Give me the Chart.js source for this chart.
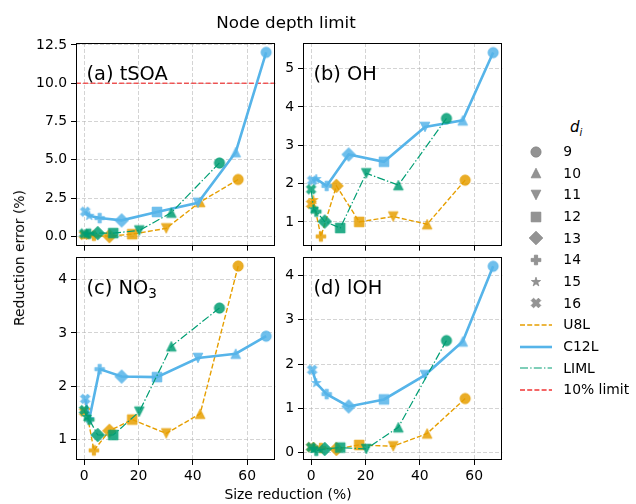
<!DOCTYPE html>
<html>
<head>
<meta charset="utf-8">
<script src="https://cdn.jsdelivr.net/npm/chart.js@4.4.1/dist/chart.umd.min.js"></script>
<style>
  body { margin: 0; background: #fff; }
  #fig { position: relative; width: 636px; height: 504px; overflow: hidden; font-family: "DejaVu Sans", sans-serif; color: #000; }
  #fig canvas.panel { position: absolute; }
  .txt { position: absolute; white-space: nowrap; line-height: 1; }
</style>
</head>
<body>
<div id="fig"></div>
<script>
// depth of the nodes (one marker per depth)
const depths = [9, 10, 11, 12, 13, 14, 15, 16];
const markers = ["o", "^", "v", "s", "D", "P", "*", "X"];

// size reduction (%) for each depth
const sizeU8L = [56.7, 42.7, 30.2, 17.7, 9.3, 3.6, 0.8, 0.0];
const sizeC12L = [67.0, 55.8, 41.9, 26.8, 13.8, 5.7, 1.9, 0.4];
const sizeLIML = [49.8, 32.1, 20.3, 10.7, 5.0, 1.9, 0.9, 0.0];

// reduction error (%) - (a) tSOA
const tsoaU8L = [3.72, 2.25, 0.53, 0.15, 0.02, 0.05, 0.08, 0.1];
const tsoaC12L = [12.02, 5.5, 2.2, 1.6, 1.05, 1.2, 1.35, 1.62];
const tsoaLIML = [4.8, 1.56, 0.39, 0.22, 0.22, 0.18, 0.15, 0.2];
// (b) OH
const ohU8L = [2.09, 0.94, 1.14, 1.0, 1.94, 0.62, 1.57, 1.47];
const ohC12L = [5.42, 3.65, 3.48, 2.57, 2.76, 1.94, 2.12, 2.08];
const ohLIML = [3.7, 1.96, 2.27, 0.84, 1.01, 1.27, 1.33, 1.85];
// (c) NO3
const no3U8L = [4.26, 1.48, 1.11, 1.37, 1.16, 0.79, 1.55, 1.52];
const no3C12L = [2.94, 2.61, 2.53, 2.17, 2.18, 2.32, 1.38, 1.76];
const no3LIML = [3.47, 2.75, 1.52, 1.08, 1.08, 1.37, 1.42, 1.55];
// (d) IOH
const iohU8L = [1.22, 0.43, 0.14, 0.17, 0.08, 0.1, 0.12, 0.12];
const iohC12L = [4.21, 2.51, 1.75, 1.2, 1.04, 1.32, 1.57, 1.87];
const iohLIML = [2.53, 0.57, 0.08, 0.11, 0.08, 0.04, 0.08, 0.12];

const limitValue = 10;

// ticks
const xTicks = [0, 20, 40, 60];
const yTicksA = [0, 2.5, 5, 7.5, 10, 12.5];
const yTicksB = [1, 2, 3, 4, 5];
const yTicksC = [1, 2, 3, 4];
const yTicksD = [0, 1, 2, 3, 4];

const xMin = -3.0, xMax = 70.4;

const colors = { U8L: "#E69F00", C12L: "#56B4E9", LIML: "#009E73" };
const limitColor = "rgba(240,50,50,0.8)";
const MS = 9.7;

Chart.defaults.font.family = "'DejaVu Sans', sans-serif";
Chart.defaults.font.size = 13.9;
Chart.defaults.color = "#000";

// marker images like matplotlib's filled markers
function markerCanvas(shape, color) {
  const n = 18;
  const c = document.createElement("canvas");
  c.width = n; c.height = n;
  const g = c.getContext("2d");
  g.translate(n / 2, n / 2);
  g.fillStyle = color;
  const h = MS / 2;
  g.beginPath();
  let pts = null;
  if (shape === "o") {
    g.arc(0, 0, h + 0.3, 0, Math.PI * 2);
  } else if (shape === "^") {
    pts = [[0, -h], [h, h], [-h, h]];
  } else if (shape === "v") {
    pts = [[0, h], [h, -h], [-h, -h]];
  } else if (shape === "s") {
    pts = [[-h, -h], [h, -h], [h, h], [-h, h]];
  } else if (shape === "D") {
    const r = h * Math.SQRT2;
    pts = [[0, -r], [r, 0], [0, r], [-r, 0]];
  } else if (shape === "P") {
    pts = [[-1, -3], [1, -3], [1, -1], [3, -1], [3, 1], [1, 1], [1, 3], [-1, 3], [-1, 1], [-3, 1], [-3, -1], [-1, -1]]
      .map(p => [p[0] * MS / 6, p[1] * MS / 6]);
  } else if (shape === "*") {
    pts = [];
    for (let i = 0; i < 10; i++) {
      const r = i % 2 === 0 ? h : h * 0.381966;
      const a = -Math.PI / 2 + i * Math.PI / 5;
      pts.push([r * Math.cos(a), r * Math.sin(a)]);
    }
  } else if (shape === "X") {
    pts = [[-1, -2], [0, -1], [1, -2], [2, -1], [1, 0], [2, 1], [1, 2], [0, 1], [-1, 2], [-2, 1], [-1, 0], [-2, -1]]
      .map(p => [p[0] * MS / 4, p[1] * MS / 4]);
  }
  if (pts) {
    g.moveTo(pts[0][0], pts[0][1]);
    for (let i = 1; i < pts.length; i++) g.lineTo(pts[i][0], pts[i][1]);
    g.closePath();
  }
  g.fill();
  g.lineWidth = 0.8;
  g.strokeStyle = color;
  g.stroke();
  return c;
}

function alpha(hex, a) {
  const v = parseInt(hex.slice(1), 16);
  return "rgba(" + (v >> 16) + "," + ((v >> 8) & 255) + "," + (v & 255) + "," + a + ")";
}

const markerImgs = {};
for (const m of ["U8L", "C12L", "LIML"]) {
  markerImgs[m] = markers.map(s => markerCanvas(s, alpha(colors[m], 0.85)));
}

const lineStyles = {
  U8L: { width: 1.4, dash: [5, 2.2] },
  C12L: { width: 2.6, dash: [] },
  LIML: { width: 1.2, dash: [8, 2.2, 1.4, 2.2] }
};

function series(name, xs, ys, order) {
  return {
    label: name,
    data: xs.map((x, i) => ({ x: x, y: ys[i] })),
    borderColor: colors[name],
    borderWidth: lineStyles[name].width,
    borderDash: lineStyles[name].dash,
    pointStyle: markerImgs[name],
    pointRadius: 5,
    tension: 0,
    order: order
  };
}

const framePlugin = {
  id: "frame",
  afterDraw(chart) {
    const a = chart.chartArea, ctx = chart.ctx;
    ctx.save();
    ctx.strokeStyle = "#000";
    ctx.lineWidth = 1;
    ctx.strokeRect(Math.round(a.left) + 0.5, Math.round(a.top) + 0.5,
      Math.round(a.right - a.left) - 1, Math.round(a.bottom - a.top) - 1);
    ctx.restore();
  }
};

const fig = document.getElementById("fig");

function addText(html, left, top, size, extra) {
  const d = document.createElement("div");
  d.className = "txt";
  d.style.left = left + "px";
  d.style.top = top + "px";
  d.style.fontSize = size + "px";
  if (extra) Object.assign(d.style, extra);
  d.innerHTML = html;
  fig.appendChild(d);
  return d;
}

function makePanel(p) {
  const yw = p.L < 200 ? 70 : 30;
  const padTop = 16, padRight = 6;
  const xh = p.bottomRow ? 36 : 12;
  const cv = document.createElement("canvas");
  cv.className = "panel";
  const w = (p.R - p.L) + yw + padRight;
  const h = padTop + (p.B - p.T) + xh;
  cv.width = w; cv.height = h;
  cv.style.left = (p.L - yw) + "px";
  cv.style.top = (p.T - padTop) + "px";
  cv.style.width = w + "px";
  cv.style.height = h + "px";
  fig.appendChild(cv);

  const datasets = [
    series("U8L", sizeU8L, p.u8l, 3),
    series("C12L", sizeC12L, p.c12l, 2),
    series("LIML", sizeLIML, p.liml, 1)
  ];
  if (p.limit !== undefined) {
    datasets.push({
      label: "10% limit",
      data: [{ x: xMin, y: p.limit }, { x: xMax, y: p.limit }],
      borderColor: limitColor,
      borderWidth: 1.4,
      borderDash: [5, 2.2],
      pointRadius: 0,
      order: 4
    });
  }

  new Chart(cv, {
    type: "line",
    data: { datasets: datasets },
    options: {
      responsive: false,
      animation: false,
      devicePixelRatio: 1,
      layout: { padding: { top: padTop, right: padRight, left: 0, bottom: 0 } },
      plugins: { legend: { display: false }, tooltip: { enabled: false } },
      scales: {
        x: {
          type: "linear",
          min: xMin,
          max: xMax,
          afterBuildTicks: s => { s.ticks = xTicks.map(v => ({ value: v })); },
          afterFit: s => { s.height = xh; },
          ticks: {
            padding: 3,
            maxRotation: 0,
            callback: v => (p.bottomRow ? String(v) : "")
          },
          grid: {
            color: "rgba(176,176,176,0.55)",
            lineWidth: 1,
            tickLength: 5,
            tickColor: "#000",
            tickWidth: 1
          },
          border: { display: false, dash: [4, 2] }
        },
        y: {
          type: "linear",
          min: p.yMin,
          max: p.yMax,
          afterBuildTicks: s => { s.ticks = p.yTicks.map(v => ({ value: v })); },
          afterFit: s => { s.width = yw; },
          ticks: {
            padding: 4,
            callback: v => (p.decimals ? v.toFixed(1) : String(v))
          },
          grid: {
            color: "rgba(176,176,176,0.55)",
            lineWidth: 1,
            tickLength: 5,
            tickColor: "#000",
            tickWidth: 1
          },
          border: { display: false, dash: [4, 2] }
        }
      }
    },
    plugins: [framePlugin]
  });

  // panel label
  addText(p.label, p.L + 10.5, p.T + 37 - 16.4, 19.4);
}

makePanel({ L: 76, T: 43, R: 277, B: 246, bottomRow: false, yMin: -0.6, yMax: 12.63, yTicks: yTicksA, decimals: true,
  u8l: tsoaU8L, c12l: tsoaC12L, liml: tsoaLIML, limit: limitValue, label: "(a) tSOA" });
makePanel({ L: 303, T: 43, R: 504, B: 246, bottomRow: false, yMin: 0.38, yMax: 5.67, yTicks: yTicksB,
  u8l: ohU8L, c12l: ohC12L, liml: ohLIML, label: "(b) OH" });
makePanel({ L: 76, T: 257, R: 277, B: 460, bottomRow: true, yMin: 0.61, yMax: 4.43, yTicks: yTicksC,
  u8l: no3U8L, c12l: no3C12L, liml: no3LIML, label: "(c) NO<span style=\"font-size:13.5px;position:relative;top:4px\">3</span>" });
makePanel({ L: 303, T: 257, R: 504, B: 460, bottomRow: true, yMin: -0.17, yMax: 4.42, yTicks: yTicksD,
  u8l: iohU8L, c12l: iohC12L, liml: iohLIML, label: "(d) lOH" });

// figure texts
addText("Node depth limit", 186, 14, 16.7, { width: "200px", textAlign: "center" });
addText("Size reduction (%)", 188, 488, 13.9, { width: "200px", textAlign: "center" });
addText("Reduction error (%)", -80, 251, 13.9, { width: "200px", textAlign: "center", transform: "rotate(-90deg)" });

// legend
addText("<i>d<sub style=\"font-size:10px\">i</sub></i>", 570, 120, 15, { color: "#000" });
const legGray = "rgba(128,128,128,0.85)";
depths.forEach((d, i) => {
  const cy = 151.7 + i * 21.67;
  const img = markerCanvas(markers[i], legGray);
  img.style.position = "absolute";
  img.style.left = (536 - 9) + "px";
  img.style.top = (cy - 9) + "px";
  fig.appendChild(img);
  addText(String(d), 563.3, cy - 6.7, 13.9);
});
const legLines = [
  { name: "U8L", color: colors.U8L, width: 1.4, dash: [5, 2.2] },
  { name: "C12L", color: colors.C12L, width: 2.6, dash: [] },
  { name: "LIML", color: colors.LIML, width: 1.2, dash: [8, 2.2, 1.4, 2.2] },
  { name: "10% limit", color: "rgba(240,30,30,0.9)", width: 1.4, dash: [5, 2.2] }
];
legLines.forEach((l, i) => {
  const cy = 151.7 + (8 + i) * 21.67;
  const c = document.createElement("canvas");
  c.width = 34; c.height = 8;
  c.style.position = "absolute";
  c.style.left = "519px";
  c.style.top = (cy - 4) + "px";
  const g = c.getContext("2d");
  g.strokeStyle = l.color;
  g.lineWidth = l.width;
  g.setLineDash(l.dash);
  g.beginPath();
  g.moveTo(1, 4);
  g.lineTo(33, 4);
  g.stroke();
  fig.appendChild(c);
  addText(l.name, 563.3, cy - 6.7, 13.9);
});
</script>
</body>
</html>
